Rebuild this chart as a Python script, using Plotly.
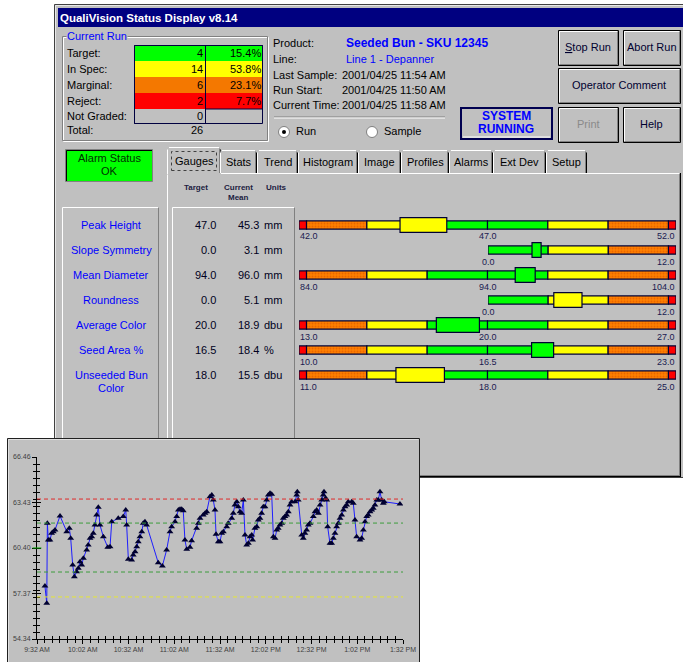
import plotly.graph_objects as go
import pandas as pd

W, H = 683, 662
OFF = 0  # page margin is removed below, so the figure starts at the window's corner
FONT = "Liberation Sans, Arial, sans-serif"
GRAY = "#c0c0c0"
DARK = "#808080"
NAVY = "#000080"
INK = "#000033"

# ---------------- data ----------------
run_labels = ["Target:", "In Spec:", "Marginal:", "Reject:", "Not Graded:"]
run_counts = [4, 14, 6, 2, 0]
run_pcts = [15.4, 53.8, 23.1, 7.7, None]
run_total = 26

info_labels = ["Product:", "Line:", "Last Sample:", "Run Start:", "Current Time:"]
info_values = ["Seeded Bun - SKU 12345", "Line 1 - Depanner",
               "2001/04/25 11:54 AM", "2001/04/25 11:50 AM", "2001/04/25 11:58 AM"]

button_labels = ["<u>S</u>top Run", "Abort Run", "Operator Comment", "Print", "Help"]
tab_labels = ["Gauges", "Stats", "Trend", "Histogram", "Image", "Profiles", "Alarms", "Ext Dev", "Setup"]

gauge_names = ["Peak Height", "Slope Symmetry", "Mean Diameter", "Roundness",
               "Average Color", "Seed Area %", "Unseeded Bun<br>Color"]
gauge_target = [47.0, 0.0, 94.0, 0.0, 20.0, 16.5, 18.0]
gauge_mean = [45.3, 3.1, 96.0, 5.1, 18.9, 18.4, 15.5]
gauge_units = ["mm", "mm", "mm", "mm", "dbu", "%", "dbu"]
gauge_lo = [42.0, 0.0, 84.0, 0.0, 13.0, 10.0, 11.0]
gauge_hi = [52.0, 12.0, 104.0, 12.0, 27.0, 23.0, 25.0]
gauge_green = [1.6, 3.84, 3.2, 3.84, 2.24, 2.08, 2.24]      # half-width of green zone
gauge_yellow = [3.2, 7.68, 6.4, 7.68, 4.48, 4.16, 4.48]     # half-width of yellow zone
gauge_orange = [4.8, 11.52, 9.6, 11.52, 6.72, 6.24, 6.72]   # half-width of orange zone
gauge_spread = [0.62, 0.29, 0.53, 0.9, 0.8, 0.38, 0.9]      # half-width of mean box

trend_minutes = [
    5.2, 6.4, 6.8, 7.4, 8.5, 9.6, 10.7, 11.8, 15.1, 19.5,
    21.2, 22.1, 23.4, 24.5, 26.0, 27.1, 28.2, 29.3, 30.4, 32.6,
    33.6, 34.8, 35.9, 36.9, 38.0, 39.1, 40.2, 41.3, 43.5, 46.4,
    47.9, 49.0, 53.3, 56.6, 58.2, 58.8, 59.9, 62.1, 63.1, 64.3,
    65.4, 66.4, 67.5, 68.7, 69.7, 70.8, 71.9, 79.5, 82.2, 85.0,
    87.2, 88.3, 90.5, 91.6, 92.7, 93.8, 94.9, 95.9, 97.0, 98.2,
    100.3, 101.4, 104.7, 105.8, 106.9, 109.0, 110.2, 111.3, 113.4, 114.6,
    115.6, 116.7, 117.4, 118.9, 120.0, 121.1, 122.2, 124.4, 125.4, 127.7,
    128.7, 129.8, 131.0, 132.0, 133.1, 134.2, 135.3, 136.4, 137.5, 138.6,
    139.7, 140.8, 141.4, 142.9, 144.1, 145.1, 146.2, 147.3, 148.4, 149.5,
    150.6, 151.7, 152.8, 153.9, 155.0, 156.1, 157.2, 158.2, 159.3, 160.5,
    161.5, 162.6, 163.7, 164.8, 165.9, 167.0, 169.2, 170.3, 170.7, 171.3,
    173.6, 174.6, 175.7, 176.8, 177.9, 179.0, 181.2, 182.3, 183.4, 184.5,
    185.6, 186.7, 187.7, 188.2, 189.3, 190.0, 190.6, 192.1, 193.2, 194.3,
    195.4, 196.5, 197.6, 198.7, 199.8, 200.9, 202.0, 203.1, 204.1, 206.4,
    207.4, 208.5, 209.6, 211.8, 212.9, 214.0, 215.1, 216.2, 217.2, 218.4,
    219.5, 220.5, 221.6, 222.8, 223.8, 224.9, 226.0, 227.1, 227.7, 238.0]
trend_values = [
    57.87, 56.72, 62.05, 60.93, 60.93, 61.38, 61.49, 61.60, 62.53, 61.49,
    61.71, 61.05, 59.27, 58.49, 58.82, 59.05, 59.49, 59.27, 59.71, 60.27,
    60.60, 61.05, 61.15, 61.38, 61.93, 62.60, 63.11, 61.93, 61.15, 60.45,
    60.49, 62.15, 62.38, 62.49, 62.93, 61.93, 59.65, 59.60, 59.93, 60.15,
    60.49, 60.82, 61.15, 61.49, 62.05, 62.15, 61.93, 59.42, 59.20, 60.27,
    61.49, 61.82, 62.15, 62.49, 62.93, 62.98, 62.98, 62.88, 60.93, 60.31,
    60.45, 60.89, 61.71, 62.05, 62.38, 62.60, 62.71, 62.82, 63.82, 63.93,
    63.60, 62.93, 61.31, 60.82, 60.82, 61.38, 61.49, 61.82, 62.05, 62.38,
    62.71, 63.26, 63.48, 63.15, 62.82, 62.71, 63.60, 61.27, 60.60, 60.71,
    61.15, 61.27, 60.93, 61.71, 61.82, 62.27, 62.38, 62.71, 63.15, 63.15,
    63.60, 63.93, 64.04, 63.98, 61.15, 61.05, 61.60, 61.71, 61.93, 62.05,
    62.38, 62.49, 62.60, 62.82, 63.26, 63.48, 63.48, 63.93, 64.15, 63.60,
    61.27, 61.05, 61.38, 61.60, 61.93, 62.05, 62.49, 62.82, 62.93, 62.71,
    63.26, 63.60, 63.93, 64.15, 63.71, 63.60, 61.82, 60.71, 60.71, 61.05,
    61.38, 61.82, 62.05, 62.38, 62.60, 62.93, 63.15, 63.26, 63.48, 63.48,
    63.38, 62.27, 61.15, 60.93, 61.05, 61.60, 62.15, 62.49, 62.60, 62.82,
    62.93, 63.04, 63.26, 63.60, 63.60, 64.15, 63.60, 63.38, 63.48, 63.33]
trend_start = "2001-04-25 09:32"
trend_ticktext = ["9:32 AM", "10:02 AM", "10:32 AM", "11:02 AM", "11:32 AM",
                  "12:02 PM", "12:32 PM", "1:02 PM", "1:32 PM"]
trend_ytick = [54.34, 57.37, 60.40, 63.43, 66.46]
limit_values = [63.66, 62.06, 58.80, 57.14]
limit_colors = ["#e02828", "#3c9c3c", "#3c9c3c", "#e6e632"]

# ---------------- helpers ----------------
shapes, annotations = [], []


def fx(x):
    return (x - OFF) / W


def fy(y):
    return 1 - (y - OFF) / H


def rect(x0, y0, x1, y1, fill="rgba(0,0,0,0)", line=None, lw=1):
    shapes.append(dict(type="rect", xref="paper", yref="paper",
                       x0=fx(x0), x1=fx(x1), y0=fy(y1), y1=fy(y0), fillcolor=fill,
                       line=dict(color=line or "rgba(0,0,0,0)", width=lw if line else 0),
                       layer="below"))


def seg(x0, y0, x1, y1, color, lw=1, dash=None):
    shapes.append(dict(type="line", xref="paper", yref="paper",
                       x0=fx(x0), x1=fx(x1), y0=fy(y0), y1=fy(y1),
                       line=dict(color=color, width=lw, dash=dash), layer="below"))


def bevel(x0, y0, x1, y1, fill=GRAY, up=True, outer="#000000"):
    rect(x0, y0, x1, y1, fill, outer)
    hi, lo = ("#ffffff", DARK) if up else (DARK, "#ffffff")
    seg(x0 + 1, y0 + 1, x1 - 1, y0 + 1, hi)
    seg(x0 + 1, y0 + 1, x0 + 1, y1 - 1, hi)
    seg(x0 + 1, y1 - 1, x1 - 1, y1 - 1, lo)
    seg(x1 - 1, y0 + 1, x1 - 1, y1 - 1, lo)


def txt(x, y, s, size=11, color="#000000", anchor="left", bg=None, xref="paper"):
    a = dict(x=fx(x) if xref == "paper" else x, y=fy(y), xref=xref, yref="paper",
             text=s, showarrow=False, xanchor=anchor, yanchor="middle",
             font=dict(family=FONT, size=size, color=color), borderpad=0)
    if bg:
        a["bgcolor"] = bg
    annotations.append(a)


# ---------------- main window ----------------
rect(54.5, 4.5, 692, 477.5, GRAY, "#404040")
seg(55.5, 5.5, 692, 5.5, "#e8e8e8")
seg(55.5, 5.5, 55.5, 477, "#e8e8e8")
rect(58, 8, 692, 27, NAVY)
txt(59, 18, "<b>QualiVision Status Display v8.14</b>", 11.5, "#ffffff")

# Current Run group
rect(63.5, 37.5, 268.5, 141.5, line="#ffffff")
rect(62.5, 36.5, 267.5, 140.5, line=DARK)
txt(66, 36, "Current Run", 11, "#0000ff", bg=GRAY)
row_edges = [45, 61, 77, 93, 109, 123]
row_fill = ["#00ff00", "#ffff00", "#f47800", "#ff0000", GRAY]
for i, lab in enumerate(run_labels):
    y0, y1 = row_edges[i], row_edges[i + 1]
    rect(134.5, y0, 262.5, y1, row_fill[i])
    yc = (y0 + y1) / 2
    txt(66, yc, lab, 11)
    txt(204, yc, str(run_counts[i]), 11, anchor="right")
    if run_pcts[i] is not None:
        txt(262, yc, f"{run_pcts[i]:.1f}%", 11, anchor="right")
rect(134.5, 45.5, 262.5, 123.5, line="#000040")
rect(134.5, 45.5, 205.5, 123.5, line="#000040")
rect(205.5, 45.5, 262.5, 109, line="#000040")
txt(66, 130, "Total:", 11)
txt(204, 130, str(run_total), 11, anchor="right")

# product info
info_y = [43, 59, 75, 90, 105]
for i, lab in enumerate(info_labels):
    txt(272, info_y[i], lab, 11)
    if i == 0:
        txt(345, info_y[i], f"<b>{info_values[i]}</b>", 12, "#0000ff")
    elif i == 1:
        txt(345, info_y[i], info_values[i], 11, "#0000ff")
    else:
        txt(341, info_y[i], info_values[i], 11)
seg(274, 117, 445, 117, DARK)
seg(274, 118, 445, 118, "#ffffff")
for cx, lab, on in [(284, "Run", True), (372, "Sample", False)]:
    shapes.append(dict(type="circle", xref="paper", yref="paper", x0=fx(cx - 5.5), x1=fx(cx + 5.5),
                       y0=fy(132 + 5.5), y1=fy(132 - 5.5), fillcolor="#ffffff",
                       line=dict(color=DARK, width=1), layer="below"))
    if on:
        shapes.append(dict(type="circle", xref="paper", yref="paper", x0=fx(cx - 2), x1=fx(cx + 2),
                           y0=fy(134), y1=fy(130), fillcolor="#000000",
                           line=dict(color="#000000", width=0), layer="below"))
    txt(cx + 11, 131, lab, 11)

# system running
rect(461, 108, 552, 139, GRAY, "#000050", 2)
seg(463, 137, 550, 137, "#ffffff")
txt(506, 116, "<b>SYSTEM</b>", 12, "#0000ff", anchor="center")
txt(506, 129, "<b>RUNNING</b>", 12, "#0000ff", anchor="center")

# buttons
button_boxes = [(558, 30, 618, 65), (623, 30, 680, 65), (558, 68, 680, 103),
                (558, 107, 618, 142), (623, 107, 680, 142)]
for (x0, y0, x1, y1), lab in zip(button_boxes, button_labels):
    bevel(x0 + 0.5, y0 + 0.5, x1 + 0.5, y1 + 0.5)
    col = "#8a8a8a" if lab == "Print" else "#000030"
    txt((x0 + x1) / 2, (y0 + y1) / 2 - 0.5, lab, 11, col, anchor="center")

# alarm status
rect(65.5, 149.5, 152.5, 181.5, "#00ff00", DARK)
seg(66.5, 150.5, 152, 150.5, "#000000")
seg(66.5, 150.5, 66.5, 181, "#000000")
txt(109, 158, "Alarm Status", 11, "#003000", anchor="center")
txt(109, 171, "OK", 11, "#003000", anchor="center")

# tab panel
rect(167.5, 173.5, 680.5, 476.5, GRAY)
seg(167.5, 173.5, 680.5, 173.5, "#ffffff")
seg(167.5, 173.5, 167.5, 476.5, "#ffffff")
seg(679.5, 173.5, 679.5, 476.5, DARK)
seg(680.5, 173, 680.5, 477, "#000000")
seg(168, 475.5, 680, 475.5, DARK)
seg(167, 476.5, 681, 476.5, "#000000")
tab_edges = [168, 220, 257, 298, 358, 401, 449, 493, 546, 587]
for i, lab in enumerate(tab_labels):
    x0, x1 = tab_edges[i], tab_edges[i + 1]
    if i == 0:
        y0 = 147.5
        rect(x0 - 1, y0, x1 + 1, 174.5, GRAY)
        seg(x0 - 0.5, y0 + 2, x0 - 0.5, 174, "#ffffff")
        seg(x0 + 1, y0, x1 - 1, y0, "#ffffff")
        seg(x1 - 0.5, y0 + 1, x1 - 0.5, 173, DARK)
        seg(x1 + 0.5, y0 + 2, x1 + 0.5, 173, "#000000")
        rect(171.5, 151.5, 216.5, 170.5, line="#404040")
        shapes[-1]["line"]["dash"] = "dot"
        txt((x0 + x1) / 2, 161, lab, 11, anchor="center")
    else:
        y0 = 150.5
        rect(x0 + 0.5, y0, x1, 173, GRAY)
        seg(x0 + 2, y0, x1 - 2, y0, "#ffffff")
        seg(x0 + 0.5, y0 + 2, x0 + 0.5, 173, "#ffffff")
        seg(x1 - 1.5, y0 + 1, x1 - 1.5, 173, DARK)
        seg(x1 - 0.5, y0 + 2, x1 - 0.5, 173, "#000000")
        txt((x0 + x1) / 2, 162, lab, 11, anchor="center")

# column headers
txt(196, 187, "<b>Target</b>", 8, "#202040", anchor="center")
txt(238, 187, "<b>Current</b>", 8, "#202040", anchor="center")
txt(238, 197, "<b>Mean</b>", 8, "#202040", anchor="center")
txt(276, 187, "<b>Units</b>", 8, "#202040", anchor="center")

# label and value panels
for (x0, x1) in [(62.5, 158.5), (172.5, 294.5)]:
    rect(x0, 207.5, x1, 478, GRAY)
    seg(x0, 207.5, x1, 207.5, "#ffffff")
    seg(x0, 207.5, x0, 478, "#ffffff")
    seg(x1, 207.5, x1, 478, DARK)

gauge_rows = [225, 250, 275, 300, 325, 350, 375]
for i in range(7):
    y = gauge_rows[i]
    if "<br>" in gauge_names[i]:
        a, b = gauge_names[i].split("<br>")
        txt(111, y, a, 11, "#0000ff", anchor="center")
        txt(111, y + 13, b, 11, "#0000ff", anchor="center")
    else:
        txt(111, y, gauge_names[i], 11, "#0000ff", anchor="center")
    txt(217, y, f"{gauge_target[i]:.1f}", 11, "#000020", anchor="right")
    txt(260, y, f"{gauge_mean[i]:.1f}", 11, "#000020", anchor="right")
    txt(263, y, gauge_units[i], 11, "#000020")

# ---------------- trend window ----------------
rect(7.5, 438.5, 419.5, 672, GRAY, "#202020")
seg(8.5, 439.5, 418.5, 439.5, "#e0e0e0")
seg(8.5, 439.5, 8.5, 670, "#e0e0e0")

fig = go.Figure()

# gauges
layout_axes = {}
for i in range(7):
    n = i + 2
    t, lo, hi = gauge_target[i], gauge_lo[i], gauge_hi[i]
    g, yl, o = gauge_green[i], gauge_yellow[i], gauge_orange[i]
    one_sided = (lo == t)
    if one_sided:
        edges = [t, t + g, t + yl, t + o, hi]
        cols = ["#00ff00", "#ffff00", "#ff8000", "#ff0000"]
        xd = [fx(488), fx(676)]
    else:
        edges = [lo, t - o, t - yl, t - g, t, t + g, t + yl, t + o, hi]
        cols = ["#ff0000", "#ff8000", "#ffff00", "#00ff00", "#00ff00", "#ffff00", "#ff8000", "#ff0000"]
        xd = [fx(299), fx(676)]
    yc = gauge_rows[i]
    for k in range(len(cols)):
        mk = dict(color=cols[k], line=dict(color=INK, width=1.2))
        if cols[k] == "#ff8000":
            mk["pattern"] = dict(shape=".", fgcolor="#d84a00", bgcolor="#ff8000", size=3, solidity=0.35)
        fig.add_trace(go.Bar(x=[edges[k + 1] - edges[k]], y=[0], base=[edges[k]], orientation="h",
                             width=0.9, marker=mk, xaxis=f"x{n}", yaxis=f"y{n}",
                             showlegend=False, hoverinfo="skip"))
    m = gauge_mean[i]
    if abs(m - t) <= g:
        bc = "#00ff00"
    elif abs(m - t) <= yl:
        bc = "#ffff00"
    elif abs(m - t) <= o:
        bc = "#ff8000"
    else:
        bc = "#ff0000"
    s = gauge_spread[i]
    fig.add_trace(go.Bar(x=[2 * s], y=[0], base=[m - s], orientation="h", width=1.65,
                         marker=dict(color=bc, line=dict(color=INK, width=1.2)),
                         xaxis=f"x{n}", yaxis=f"y{n}", showlegend=False, hoverinfo="skip"))
    layout_axes[f"xaxis{n}"] = dict(domain=xd, range=[lo, hi], visible=False, anchor=f"y{n}", fixedrange=True)
    layout_axes[f"yaxis{n}"] = dict(domain=[fy(yc + 9), fy(yc - 9)], range=[-1, 1], visible=False,
                                    anchor=f"x{n}", fixedrange=True)
    lab_y = yc + 11.5
    if not one_sided:
        txt(lo, lab_y, f"{lo:.1f}", 9, "#1a1a50", anchor="left", xref=f"x{n}")
    txt(t, lab_y, f"{t:.1f}", 9, "#1a1a50", anchor="center", xref=f"x{n}")
    txt(hi, lab_y, f"{hi:.1f}", 9, "#1a1a50", anchor="right", xref=f"x{n}")

# trend chart
t0 = pd.Timestamp(trend_start)
times = [t0 + pd.Timedelta(minutes=m) for m in trend_minutes]
tickvals = [t0 + pd.Timedelta(minutes=30 * k) for k in range(len(trend_ticktext))]
t_end = tickvals[-1]

fig.add_trace(go.Scatter(x=times, y=trend_values, mode="lines+markers",
                         line=dict(color="#1e1eff", width=1),
                         marker=dict(symbol="triangle-up", size=6, color="#000030"),
                         xaxis="x", yaxis="y", showlegend=False, hoverinfo="skip"))
fig.add_trace(go.Scatter(x=[], y=[], xaxis="x", yaxis="y9", showlegend=False))
fig.add_trace(go.Scatter(x=[], y=[], xaxis="x9", yaxis="y", showlegend=False))

for v, c in zip(limit_values, limit_colors):
    shapes.append(dict(type="line", xref="x domain", yref="y", x0=0, x1=1, y0=v, y1=v,
                       line=dict(color=c, width=1, dash="4px,3px"), layer="above"))
shapes.append(dict(type="line", xref="x domain", yref="y", x0=-0.012, x1=0.012,
                   y0=trend_ytick[2], y1=trend_ytick[2], line=dict(color="#00a000", width=1), layer="above"))

yticktext = [f"{v:.2f}" for v in trend_ytick]
xdom = [fx(37), fx(403)]
ydom = [fy(639), fy(457)]
ax_font = dict(family=FONT, size=7, color="#404040")

fig.update_layout(
    width=W, height=H, margin=dict(l=0, r=0, t=0, b=0, pad=0, autoexpand=False),
    paper_bgcolor="#ffffff", plot_bgcolor="rgba(0,0,0,0)",
    barmode="overlay", showlegend=False,
    shapes=shapes, annotations=annotations,
    xaxis=dict(domain=xdom, type="date", range=[t0, t_end], anchor="y", automargin=False,
               tickvals=tickvals, ticktext=trend_ticktext, tickfont=ax_font,
               showline=True, linecolor="#000000", linewidth=1, showgrid=False, zeroline=False,
               ticks="outside", ticklen=4, tickcolor="#000000",
               minor=dict(dtick=5 * 60 * 1000, tick0=t0, ticks="outside", ticklen=3,
                          tickcolor="#000000", showgrid=False),
               fixedrange=True),
    yaxis=dict(domain=ydom, range=[trend_ytick[0], trend_ytick[-1]], anchor="x", automargin=False,
               tickvals=trend_ytick, ticktext=yticktext, tickfont=ax_font,
               showline=True, linecolor="#000000", linewidth=1, showgrid=False, zeroline=False,
               ticks="outside", ticklen=4, tickcolor="#000000",
               minor=dict(dtick=(trend_ytick[-1] - trend_ytick[0]) / 26, tick0=trend_ytick[0],
                          ticks="outside", ticklen=3, tickcolor="#000000", showgrid=False),
               fixedrange=True),
    xaxis9=dict(domain=xdom, type="date", range=[t0, t_end], overlaying="x", anchor="y",
                tickvals=tickvals, showticklabels=False, showline=False, showgrid=False,
                zeroline=False, ticks="inside", ticklen=3, tickcolor="#000000",
                minor=dict(dtick=5 * 60 * 1000, tick0=t0, ticks="inside", ticklen=3,
                           tickcolor="#000000", showgrid=False), fixedrange=True),
    yaxis9=dict(domain=ydom, range=[trend_ytick[0], trend_ytick[-1]], overlaying="y", anchor="x",
                tickvals=trend_ytick, showticklabels=False, showline=False, showgrid=False,
                zeroline=False, ticks="inside", ticklen=4, tickcolor="#000000",
                minor=dict(dtick=(trend_ytick[-1] - trend_ytick[0]) / 26, tick0=trend_ytick[0],
                           ticks="inside", ticklen=3, tickcolor="#000000", showgrid=False),
                fixedrange=True),
    **layout_axes,
)

fig.write_html("out.html", config={"displayModeBar": False, "staticPlot": True},
               post_script="document.body.style.margin='0';document.body.style.overflow='hidden';")
